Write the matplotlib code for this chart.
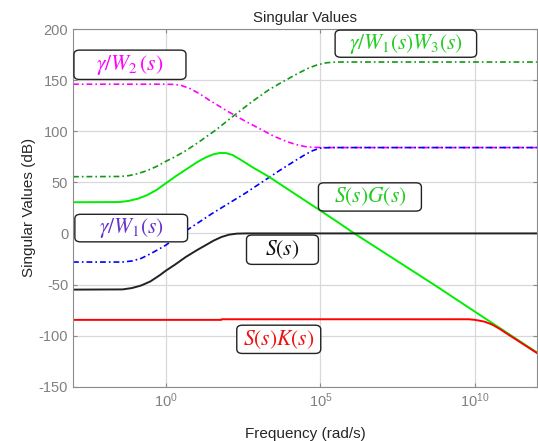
import numpy as np
import matplotlib
matplotlib.use("Agg")
import matplotlib.pyplot as plt
from matplotlib.patches import FancyBboxPatch

plt.rcParams['font.family'] = ['Liberation Sans', 'DejaVu Sans']
plt.rcParams['mathtext.fontset'] = 'custom'
plt.rcParams['mathtext.rm'] = 'Liberation Sans'
plt.rcParams['mathtext.it'] = 'Liberation Sans:italic'
plt.rcParams['axes.unicode_minus'] = False

# singular value curves: log10(w) and dB
w2_logw = [-3, 0, 0.3, 0.5, 0.8, 1.1, 1.4, 1.7, 2.0, 2.5, 3.0, 3.5, 3.9, 4.2, 4.5, 4.8, 5.2, 12]
w2_db = [146, 146, 145.7, 144.8, 141.5, 136.5, 130.5, 125, 119.5, 111, 103, 95, 90, 87, 85, 84.2, 84, 84]

w13_logw = [-3, -1.5, -1.2, -0.9, -0.6, -0.3, 0, 0.3, 0.65, 1.0, 1.61, 2.15, 2.79, 3.33,
            3.7, 4.0, 4.3, 4.6, 4.9, 5.2, 5.5, 12]
w13_db = [55.5, 55.7, 56.5, 58.5, 61.5, 65.5, 70.5, 75, 81, 88, 101, 114, 129, 140.5,
          147, 152, 157, 161.5, 165, 167, 167.7, 167.7]

w1_logw = [-3, -1.4, -1.1, -0.8, -0.5, -0.2, 0, 0.3, 0.65, 1.0, 1.5, 2.58, 3.65, 4.2,
           4.5, 4.75, 5.0, 5.3, 12]
w1_db = [-28, -28, -27, -24.5, -20, -15, -11.5, -5, 2.5, 9.5, 19.5, 39.5, 61, 71.5,
         77, 81, 83.5, 84, 84]

sg_logw = [-3, -1.5, -1.2, -0.9, -0.6, -0.3, 0, 0.3, 0.65, 1.0, 1.3, 1.55, 1.75, 1.95,
           2.15, 2.4, 2.79, 3.33, 5.48, 6.07, 8.7, 10, 12]
sg_db = [30.5, 30.7, 31.8, 34, 37.5, 42.5, 49, 55.5, 62.5, 69.5, 74.5, 77.5, 78.7, 78.6,
         76.8, 72.5, 65, 55.5, 12.7, 0.5, -50.7, -76.7, -116.5]

s_logw = [-3, -1.4, -1.1, -0.8, -0.5, -0.2, 0, 0.3, 0.65, 1.0, 1.29, 1.55, 1.8, 2.05,
          2.3, 2.6, 12]
s_db = [-55, -54.8, -53.5, -51, -47, -41, -36.5, -30.5, -23, -16.5, -11.5, -7, -3.5,
        -1.2, -0.2, 0, 0]

sk_logw = [-3, 1.79, 1.8, 9.8, 10.0, 10.3, 10.54, 10.8, 11.0, 12]
sk_db = [-84.6, -84.6, -84, -84, -84.6, -86.3, -89, -93.5, -97.5, -117]

dashdot = (0, (3.5, 1.8, 1, 1.8))

fig = plt.figure(figsize=(5.38, 4.41), dpi=100)
ax = fig.add_axes([0.1357, 0.1231, 0.8623, 0.8111])

ax.plot(10.0 ** np.array(w2_logw), w2_db, color='#ff00ff', lw=1.2, ls=dashdot)
ax.plot(10.0 ** np.array(w13_logw), w13_db, color='#119911', lw=1.2, ls=dashdot)
ax.plot(10.0 ** np.array(w1_logw), w1_db, color='#0000ff', lw=1.2, ls=dashdot)
ax.plot(10.0 ** np.array(sg_logw), sg_db, color='#00ee00', lw=1.4)
ax.plot(10.0 ** np.array(sk_logw), sk_db, color='#ff0000', lw=1.4)
ax.plot(10.0 ** np.array(s_logw), s_db, color='#222222', lw=1.4)

ax.set_xscale('log')
ax.set_xlim(1e-3, 1e12)
ax.set_ylim(-150, 200)
ax.set_xticks([1e0, 1e5, 1e10])
ax.set_xticklabels([r'$10^{0}$', r'$10^{5}$', r'$10^{10}$'])
ax.xaxis.set_minor_locator(matplotlib.ticker.NullLocator())
ax.set_yticks(np.arange(-150, 201, 50))
ax.grid(True, color='#d8d8d8', lw=0.9)
ax.set_axisbelow(True)
ax.tick_params(direction='in', top=True, right=True, colors='#888888',
               labelcolor='#808080', labelsize=10.5, length=3)
for sp in ax.spines.values():
    sp.set_color('#8c8c8c')

ax.set_title('Singular Values', fontsize=10.8, color='#262626', pad=5)
ax.set_xlabel('Frequency (rad/s)', fontsize=11, color='#262626', labelpad=12)
ax.set_ylabel('Singular Values (dB)', fontsize=11, color='#262626', labelpad=2)

# annotation boxes: (text, colour, x0, y0, x1, y1) in axes fraction
labels = [
    (r'$\gamma/W_2\,(s)$', '#ff00ff', 0.002, 0.859, 0.2435, 0.941),
    (r'$\gamma/W_1(s)W_3(s)$', '#22cc22', 0.565, 0.921, 0.870, 0.997),
    (r'$\gamma/W_1(s)$', '#6633cc', 0.004, 0.405, 0.247, 0.482),
    (r'$S(s)$', '#111111', 0.374, 0.342, 0.529, 0.424),
    (r'$S(s)K(s)$', '#ee1111', 0.353, 0.093, 0.534, 0.172),
    (r'$S(s)G(s)$', '#22cc22', 0.529, 0.491, 0.751, 0.570),
]
for txt, col, x0, y0, x1, y1 in labels:
    box = FancyBboxPatch((x0, y0), x1 - x0, y1 - y0,
                         boxstyle='round,pad=0,rounding_size=0.012',
                         transform=ax.transAxes, facecolor='white',
                         edgecolor='#222222', lw=1.0, clip_on=False, zorder=5)
    ax.add_patch(box)
    ax.text((x0 + x1) / 2, (y0 + y1) / 2, txt, color=col, fontsize=15.5,
            math_fontfamily='stix', ha='center', va='center',
            transform=ax.transAxes, zorder=6)

fig.savefig('out.png', dpi=100)
